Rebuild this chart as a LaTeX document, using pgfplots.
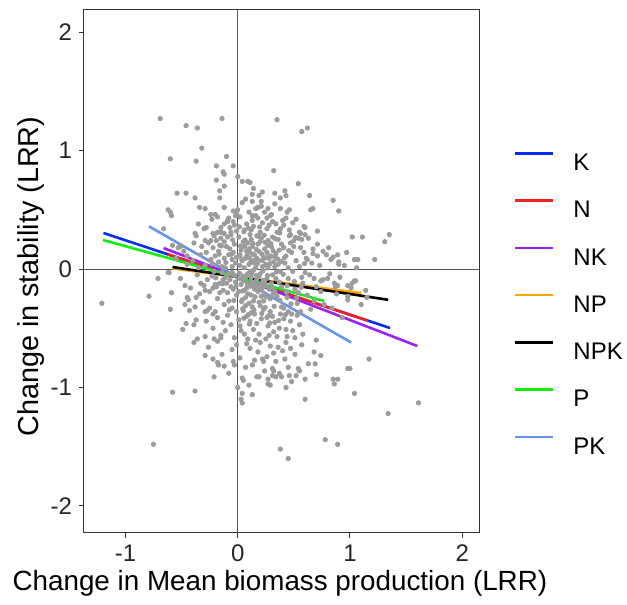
\documentclass[border=0pt]{standalone}
\usepackage{pgfplots}
\pgfplotsset{compat=1.18}
\usepackage{fontspec}
\setmainfont{Liberation Sans}
\definecolor{cK}{HTML}{0A2AF5}
\definecolor{cN}{HTML}{F02020}
\definecolor{cNK}{HTML}{A020F0}
\definecolor{cNP}{HTML}{FFA500}
\definecolor{cNPK}{HTML}{000000}
\definecolor{cP}{HTML}{10EE10}
\definecolor{cPK}{HTML}{6495ED}
\definecolor{ptgray}{HTML}{9C9C9C}
\definecolor{zline}{HTML}{555555}
\begin{document}
\begin{tikzpicture}
\useasboundingbox (-42pt,-36pt) rectangle (271.5pt,266.5pt);
\begin{axis}[
  scale only axis, width=197.5pt, height=261.5pt,
  at={(0,0)}, anchor=south west,
  xmin=-1.369, xmax=2.149, ymin=-2.228, ymax=2.186,
  xtick={-1,0,1,2}, xticklabels={-1,0,1,2},
  ytick={-2,-1,0,1,2}, yticklabels={-2,-1,0,1,2},
  xtick pos=lower, ytick pos=left,
  tick align=outside, major tick length=2.5pt,
  tick style={draw=black!80, line width=0.5pt},
  axis line style={draw=black!80, line width=0.5pt},
  ticklabel style={font=\fontsize{12}{14}\selectfont, text=black!85},
  xlabel={Change in Mean biomass production (LRR)},
  ylabel={Change in stability (LRR)},
  xlabel style={font=\fontsize{13.9}{16}\selectfont, at={(axis description cs:0.496,-0.0956)}, anchor=center},
  ylabel style={font=\fontsize{14.4}{16}\selectfont, at={(axis description cs:-0.134,0.49)}, anchor=center},
  legend style={draw=none, fill=none, at={(axis description cs:1.0873,0.7294)}, anchor=north west,
    inner sep=0pt, row sep=14.4pt, font=\fontsize{12}{14}\selectfont,
    nodes={inner sep=0pt, text height=8.6pt, text depth=0pt},
    /tikz/every odd column/.append style={column sep=9.5pt}},
  legend cell align=left,
  legend image code/.code={\draw[#1, line width=1.3pt] (0pt,4.3pt) -- (19pt,4.3pt);},
]
\addplot[zline, line width=0.5pt, forget plot] coordinates {(0,-2.228) (0,2.186)};
\addplot[zline, line width=0.5pt, forget plot] coordinates {(-1.369,0) (2.149,0)};
\addplot[ptgray, only marks, mark=*, mark size=1.1pt, mark options={draw=none, fill=ptgray}, forget plot] table {
x y
-0.69 1.27
-0.14 1.27
-0.46 1.21
-0.36 1.19
-0.32 1.02
-0.60 0.93
-0.37 0.91
-0.10 0.95
-0.19 0.87
-0.04 0.87
-0.13 0.82
-0.12 0.80
-0.19 0.75
0.00 0.78
0.04 0.74
0.09 0.74
-0.12 0.70
-0.54 0.64
-0.46 0.64
-0.38 0.60
-0.16 0.60
-0.16 0.66
-0.62 0.50
-0.60 0.48
-0.59 0.45
-0.34 0.52
-0.29 0.51
-0.24 0.46
-0.20 0.46
-0.23 0.42
-0.04 0.49
0.00 0.50
-0.08 0.43
-0.66 0.34
-0.38 0.30
-0.35 0.38
-0.30 0.34
-0.28 0.35
-0.53 0.18
-0.51 0.19
-0.45 0.11
-0.29 0.24
-0.24 0.24
-0.22 0.30
-0.18 0.31
-0.15 0.26
-0.12 0.30
-0.09 0.40
-0.07 0.35
-0.12 0.38
-0.02 0.45
-0.04 0.40
-0.62 -0.03
-0.71 -0.08
-0.79 -0.23
-0.45 -0.24
-0.37 -0.24
-0.33 -0.12
-0.29 -0.18
-0.22 -0.16
-0.20 -0.13
-0.16 -0.20
0.35 1.26
0.57 1.16
0.62 1.19
0.32 0.83
0.11 0.73
0.54 0.72
0.14 0.68
0.22 0.65
0.33 0.64
0.42 0.66
0.43 0.62
0.13 0.63
0.19 0.62
0.38 0.60
0.64 0.62
0.85 0.58
0.90 0.49
0.65 0.50
0.67 0.51
0.13 0.57
0.16 0.51
0.21 0.53
0.27 0.51
0.38 0.51
0.46 0.50
0.13 0.45
0.18 0.43
0.26 0.43
0.29 0.45
0.34 0.38
0.40 0.41
0.43 0.43
0.49 0.39
0.59 0.36
0.60 0.35
0.71 0.32
1.02 0.27
1.11 0.27
1.31 0.23
1.35 0.29
1.22 0.08
1.04 0.08
1.07 0.08
0.89 0.12
0.90 0.04
0.83 0.08
0.76 0.15
0.71 0.11
0.67 0.13
0.62 0.08
0.56 0.18
0.54 0.26
0.50 0.24
0.47 0.29
0.56 0.30
0.60 0.29
0.80 -0.08
0.86 -0.12
0.89 -0.14
0.98 -0.14
1.05 -0.10
0.68 -0.08
0.74 -0.10
-1.21 -0.29
-0.61 -0.03
-0.59 -0.20
-0.60 -0.34
-0.49 -0.51
-0.46 -0.46
-0.39 -0.47
-0.37 -0.43
-0.43 -0.35
-0.38 -0.32
-0.29 -0.36
-0.27 -0.35
-0.22 -0.38
-0.47 -0.30
-0.39 -0.62
-0.36 -0.59
-0.29 -0.57
-0.21 -0.59
-0.18 -0.61
-0.15 -0.58
-0.29 -0.73
-0.22 -0.76
-0.17 -0.81
-0.12 -0.82
-0.21 -0.91
-0.58 -1.04
-0.38 -1.03
-0.75 -1.48
-0.04 -0.78
-0.03 -0.81
0.04 -0.92
0.00 -1.00
0.04 -1.05
0.03 -1.10
0.04 -1.13
0.13 -1.06
0.19 -0.91
0.27 -0.93
0.31 -0.90
0.32 -0.86
0.23 -0.78
0.29 -0.98
0.38 -1.52
1.17 -0.76
0.98 -0.84
1.00 -0.84
1.04 -1.05
1.61 -1.13
1.34 -1.22
0.78 -1.44
0.89 -1.48
0.45 -1.60
0.60 -1.10
0.85 -0.93
0.89 -0.93
0.86 -0.97
0.70 -0.89
0.69 -0.80
0.74 -0.73
0.34 -0.91
0.39 -0.91
0.43 -1.00
0.46 -0.90
0.52 -0.90
0.55 -0.86
0.98 -0.23
1.01 -0.16
1.04 -0.10
1.15 -0.24
-0.02 0.05
-0.05 -0.03
-0.08 0.12
-0.11 -0.07
-0.14 0.02
-0.03 0.21
-0.17 0.15
-0.21 -0.02
-0.06 -0.15
-0.24 0.08
-0.01 -0.22
-0.09 0.27
-0.13 -0.18
-0.19 0.24
-0.27 -0.09
-0.04 0.14
-0.12 0.09
-0.07 -0.09
-0.16 -0.12
-0.22 0.18
-0.02 -0.11
-0.29 0.03
-0.10 0.19
-0.18 -0.25
-0.06 0.29
-0.25 -0.19
-0.01 0.32
-0.15 0.31
-0.08 -0.27
-0.20 0.11
-0.26 0.22
-0.03 -0.05
-0.11 0.01
-0.05 0.08
-0.14 -0.03
-0.09 -0.20
-0.23 -0.06
-0.17 0.06
-0.28 0.14
-0.04 -0.17
-0.12 0.23
-0.19 -0.15
-0.07 0.17
-0.01 0.10
-0.21 0.28
-0.10 -0.12
-0.16 0.20
-0.30 -0.14
-0.05 0.02
-0.13 -0.09
0.02 0.03
0.05 -0.06
0.08 0.11
0.11 -0.02
0.14 0.07
0.03 -0.13
0.17 -0.09
0.19 0.15
0.22 0.02
0.06 0.19
0.25 -0.14
0.09 -0.21
0.28 0.09
0.12 0.25
0.31 -0.05
0.15 -0.17
0.34 0.13
0.01 0.27
0.37 -0.11
0.18 0.21
0.04 -0.26
0.21 -0.23
0.27 0.24
0.10 0.04
0.13 -0.11
0.24 0.17
0.07 0.09
0.16 0.01
0.30 0.19
0.33 -0.19
0.20 -0.04
0.08 -0.16
0.36 0.04
0.02 -0.08
0.26 -0.08
0.11 0.14
0.39 0.21
0.14 -0.27
0.23 0.10
0.05 0.23
0.29 -0.25
0.17 0.28
0.38 -0.02
0.09 -0.04
0.32 0.06
0.12 -0.07
0.06 0.01
0.21 0.26
0.35 -0.23
0.27 0.01
0.03 0.16
0.18 -0.19
0.24 -0.11
0.15 0.12
0.10 -0.29
0.31 0.27
0.07 -0.24
0.22 0.07
0.13 0.19
0.19 -0.06
0.01 -0.19
0.26 0.14
0.34 -0.08
0.16 -0.14
0.04 0.07
0.28 -0.17
0.11 0.29
0.37 0.16
0.20 0.23
0.08 0.15
0.25 0.04
0.14 -0.01
0.30 -0.12
0.05 -0.10
0.23 -0.27
0.39 -0.15
0.17 0.09
0.09 0.22
0.33 0.02
0.12 -0.22
0.27 0.20
0.02 0.12
0.19 -0.28
0.36 0.25
0.06 -0.18
0.22 -0.16
0.15 0.05
0.29 0.11
0.10 0.17
0.24 -0.21
0.42 0.05
0.45 -0.08
0.48 0.14
0.51 -0.17
0.44 -0.24
0.55 0.02
0.58 -0.12
0.47 0.22
0.61 0.09
0.53 -0.29
0.64 -0.05
0.41 -0.33
0.67 0.17
0.57 0.25
0.70 -0.15
0.49 -0.02
0.62 -0.22
0.43 0.11
0.73 0.03
0.56 -0.36
0.76 -0.09
0.46 0.28
0.59 0.14
0.68 -0.27
0.52 0.07
0.79 0.12
0.44 -0.14
0.65 -0.34
0.71 0.21
0.54 -0.20
0.60 -0.03
0.48 -0.38
0.74 -0.19
0.41 0.18
0.66 0.05
0.57 -0.07
0.63 0.26
0.50 0.19
0.77 -0.30
0.45 0.01
0.82 -0.04
0.85 0.10
0.88 -0.21
0.91 -0.07
0.84 -0.33
0.95 0.03
0.98 -0.26
0.81 0.18
1.02 -0.12
0.93 -0.41
1.06 0.01
0.87 -0.15
1.10 -0.30
0.97 0.14
1.14 -0.18
0.90 0.06
-0.25 -0.33
-0.18 -0.41
-0.12 -0.30
-0.06 -0.47
-0.01 -0.36
0.03 -0.52
0.07 -0.31
0.11 -0.44
0.15 -0.38
0.19 -0.55
0.23 -0.34
0.27 -0.48
0.31 -0.40
0.35 -0.57
0.39 -0.32
0.43 -0.51
0.47 -0.44
0.51 -0.58
0.55 -0.47
-0.22 -0.50
-0.15 -0.56
-0.09 -0.39
-0.03 -0.58
0.01 -0.43
0.05 -0.35
0.09 -0.59
0.13 -0.32
0.17 -0.46
0.21 -0.42
0.25 -0.59
0.29 -0.36
0.33 -0.45
0.37 -0.50
0.41 -0.42
0.45 -0.36
0.49 -0.52
0.53 -0.39
0.58 -0.55
-0.28 -0.44
-0.20 -0.36
-0.11 -0.52
-0.05 -0.33
0.02 -0.48
0.08 -0.40
0.14 -0.51
0.20 -0.31
0.26 -0.41
0.32 -0.53
0.38 -0.38
0.44 -0.57
0.06 -0.55
0.16 -0.60
-0.13 -0.45
0.28 -0.56
0.12 -0.37
-0.26 -0.66
-0.14 -0.72
-0.05 -0.68
0.02 -0.75
0.08 -0.63
0.13 -0.81
0.18 -0.70
0.24 -0.86
0.29 -0.65
0.34 -0.78
0.40 -0.69
0.45 -0.83
0.51 -0.72
0.57 -0.64
0.63 -0.80
0.68 -0.70
-0.08 -0.88
0.05 -0.94
0.11 -0.67
0.17 -0.91
0.22 -0.76
0.27 -0.97
0.32 -0.71
0.37 -0.88
0.43 -0.62
0.48 -0.95
0.54 -0.84
0.60 -0.93
-0.01 -0.64
0.07 -0.83
0.15 -0.77
0.20 -0.62
0.26 -0.74
0.36 -0.66
0.42 -0.76
0.10 -0.98
-0.18 -0.79
0.70 -0.60
0.47 -0.67
0.31 -0.84
-0.15 0.35
-0.09 0.41
-0.03 0.37
0.02 0.44
0.06 0.33
0.10 0.48
0.14 0.36
0.18 0.52
0.22 0.39
0.26 0.34
0.30 0.46
0.35 0.31
0.41 0.37
0.46 0.33
0.52 0.42
-0.12 0.52
-0.06 0.31
0.04 0.56
0.08 0.38
0.12 0.33
0.16 0.45
0.20 0.31
0.24 0.48
0.28 0.37
0.33 0.55
0.38 0.34
0.44 0.48
-0.01 0.47
0.07 0.59
0.21 0.57
0.31 0.40
0.13 0.41
-0.18 0.44
0.55 0.31
-0.33 0.12
-0.36 -0.05
-0.39 0.22
-0.42 -0.16
-0.45 0.04
-0.48 0.15
-0.34 -0.21
-0.51 -0.08
-0.37 0.28
-0.55 0.09
-0.31 -0.28
-0.44 -0.26
-0.40 0.07
-0.32 0.19
-0.47 -0.14
-0.58 0.20
-0.35 0.01
0.035 0.085
0.125 -0.035
0.215 0.125
0.305 -0.155
0.085 -0.125
0.175 0.045
0.265 -0.055
0.355 0.085
0.045 -0.335
0.135 0.215
0.225 -0.095
0.315 0.155
0.405 -0.045
-0.045 0.245
-0.135 -0.125
-0.225 0.045
0.015 -0.035
0.105 0.095
0.195 -0.165
0.285 0.045
0.375 -0.265
-0.075 -0.345
-0.165 0.125
0.055 0.315
0.145 -0.345
0.235 0.285
0.325 -0.315
0.415 0.095
0.505 -0.105
0.595 0.045
-0.035 -0.265
0.075 -0.065
0.165 0.165
0.255 -0.235
0.345 -0.025
0.435 -0.195
0.525 -0.245
-0.105 0.055
-0.195 -0.075
0.025 0.195
0.115 0.055
0.205 -0.125
0.295 0.215
0.385 0.065
0.475 -0.295
0.565 -0.155
-0.015 -0.145
0.095 -0.385
0.185 0.075
0.275 -0.395
0.365 -0.435
0.455 0.155
-0.055 0.125
-0.145 0.195
0.065 0.245
0.155 -0.235
0.245 0.225
0.335 0.255
0.425 -0.385
0.515 0.265
0.015 0.355
0.105 -0.465
0.195 0.355
0.285 -0.455
0.375 0.305
-0.085 -0.045
0.045 -0.185
0.135 0.125
0.225 -0.015
0.315 -0.205
0.095 0.345
0.255 0.095
0.165 -0.055
0.055 -0.415
0.215 -0.375
0.325 0.105
0.115 -0.145
0.245 -0.325
0.035 -0.275
0.185 0.275
};
\addplot[cK, line width=1.3pt] coordinates {(-1.196,0.304) (1.357,-0.498)};
\addlegendentry{K}
\addplot[cN, line width=1.3pt] coordinates {(-0.62,0.123) (1.16,-0.436)};
\addlegendentry{N}
\addplot[cNK, line width=1.3pt] coordinates {(-0.66,0.177) (1.60,-0.650)};
\addlegendentry{NK}
\addplot[cNP, line width=1.3pt] coordinates {(-0.58,0.005) (1.10,-0.203)};
\addlegendentry{NP}
\addplot[cNPK, line width=1.3pt] coordinates {(-0.58,0.017) (1.34,-0.260)};
\addlegendentry{NPK}
\addplot[cP, line width=1.3pt] coordinates {(-1.20,0.245) (0.77,-0.270)};
\addlegendentry{P}
\addplot[cPK, line width=1.3pt] coordinates {(-0.79,0.360) (1.01,-0.620)};
\addlegendentry{PK}
\end{axis}
\end{tikzpicture}
\end{document}
